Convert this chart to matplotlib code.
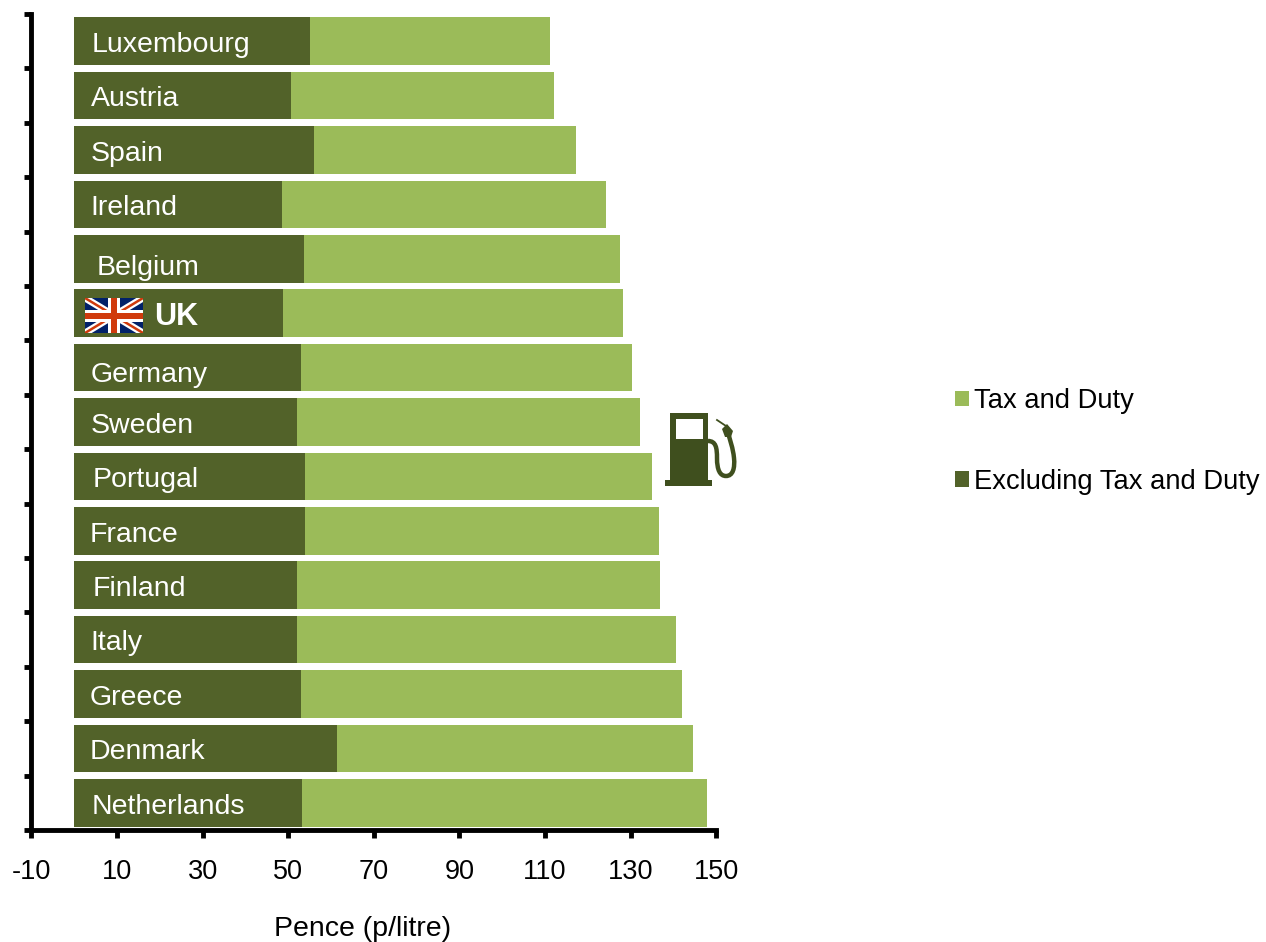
from matplotlib import pyplot as plt
from matplotlib.patches import Rectangle, Polygon, PathPatch
from matplotlib.path import Path

plt.rcParams["font.family"] = ["Liberation Sans", "DejaVu Sans"]
plt.rcParams["axes.unicode_minus"] = False

countries = ["Luxembourg", "Austria", "Spain", "Ireland", "Belgium", "UK", "Germany", "Sweden",
             "Portugal", "France", "Finland", "Italy", "Greece", "Denmark", "Netherlands"]
excl_tax = [55.1, 50.7, 56.1, 48.6, 53.7, 48.8, 53.0, 52.0, 54.0, 54.0, 52.0, 52.0, 53.0, 61.4, 53.3]
total = [111.2, 112.1, 117.3, 124.3, 127.6, 128.3, 130.4, 132.2, 135.0, 136.6, 136.9, 140.6, 142.1, 144.5, 147.8]
tax_duty = [t - e for t, e in zip(total, excl_tax)]
x_ticks = [-10, 10, 30, 50, 70, 90, 110, 130, 150]

dark = "#526229"
light = "#9BBB59"
W, H = 1266, 942

fig = plt.figure(figsize=(W / 100, H / 100), dpi=100)
ax = fig.add_axes([31.3 / W, 1 - 830 / H, 685 / W, 816 / H])

pos = list(range(len(countries)))
b1 = ax.barh(pos, excl_tax, height=0.875, color=dark, label="Excluding Tax and Duty")
b2 = ax.barh(pos, tax_duty, left=excl_tax, height=0.875, color=light, label="Tax and Duty")

ax.set_xlim(-10, 150)
ax.set_ylim(14.5, -0.5)
ax.set_xticks(x_ticks)
ax.set_yticks([p - 0.5 for p in pos] + [14.5])
ax.set_yticklabels([])
ax.tick_params(axis="y", width=3.5, length=5, color="black")
ax.tick_params(axis="x", width=3.5, length=6, color="black", labelsize=19.5, pad=15)
for s in ["top", "right"]:
    ax.spines[s].set_visible(False)
for s in ["left", "bottom"]:
    ax.spines[s].set_linewidth(3.5)
ax.set_xlabel("Pence (p/litre)", fontsize=20.5, x=0.483, labelpad=22)

# country names sit slightly unevenly in the original
label_x = [4.2, 3.9, 3.9, 3.9, 5.2, 18.7, 3.9, 3.9, 4.3, 3.7, 4.3, 3.9, 3.6, 3.7, 4.0]
label_dy = [0, 0, 0, 0, 0.1, 0, 0.06, 0, 0, 0, 0, 0, 0, 0, 0]
for p, name, lx, dy in zip(pos, countries, label_x, label_dy):
    is_uk = name == "UK"
    ax.text(lx, p + dy + 0.07, name, color="white", va="center", ha="left",
            fontsize=22 if is_uk else 20.5, fontweight="bold" if is_uk else "normal")

fig.legend(handles=[b2, b1], loc="upper left", bbox_to_anchor=(947 / W, 1 - 380 / H), frameon=False,
           fontsize=19.7, handlelength=0.5, handleheight=0.5, handletextpad=0.2, labelspacing=2.0,
           borderpad=0.3, borderaxespad=0)

# overlay in pixel coordinates for the flag and the pump icon
over = fig.add_axes([0, 0, 1, 1])
over.set_xlim(0, W)
over.set_ylim(H, 0)
over.axis("off")
over.patch.set_alpha(0)

# flag
fx0, fx1, fy0, fy1 = 85, 143, 298, 333
navy = "#012169"
red = "#D03A0C"
flag = Rectangle((fx0, fy0), fx1 - fx0, fy1 - fy0, color=navy, lw=0)
over.add_patch(flag)
for a, b in [((fx0, fy0), (fx1, fy1)), ((fx0, fy1), (fx1, fy0))]:
    for lw, c in [(5, "white"), (1.8, red)]:
        l = over.plot([a[0], b[0]], [a[1], b[1]], color=c, lw=lw, solid_capstyle="butt")[0]
        l.set_clip_path(flag)
fx, fy = (fx0 + fx1) / 2, (fy0 + fy1) / 2
over.add_patch(Rectangle((fx - 6, fy0), 12, fy1 - fy0, color="white", lw=0, zorder=3))
over.add_patch(Rectangle((fx0, fy - 6), fx1 - fx0, 12, color="white", lw=0, zorder=3))
over.add_patch(Rectangle((fx - 3, fy0), 6, fy1 - fy0, color=red, lw=0, zorder=4))
over.add_patch(Rectangle((fx0, fy - 3), fx1 - fx0, 6, color=red, lw=0, zorder=4))

# pump
pump = "#3F4F1E"
over.add_patch(Rectangle((670, 413), 38, 68, color=pump, lw=0))
over.add_patch(Rectangle((665, 480), 47, 6, color=pump, lw=0))
over.add_patch(Rectangle((676, 419), 27, 20, color="white", lw=0))
hose = Path([(708, 441), (716, 441), (717, 448), (717, 458), (717, 470), (720, 476), (726, 476),
             (733, 476), (735, 468), (734, 458), (733, 448), (730, 440), (728, 433)],
            [Path.MOVETO] + [Path.CURVE4] * 12)
over.add_patch(PathPatch(hose, fc="none", ec=pump, lw=3.2))
over.add_patch(Polygon([(722, 429), (727, 424), (733, 431), (731, 437), (725, 437)], color=pump, lw=0))
over.plot([717, 726], [420, 426], color=pump, lw=1.3)

fig.savefig("out.png", dpi=100)
